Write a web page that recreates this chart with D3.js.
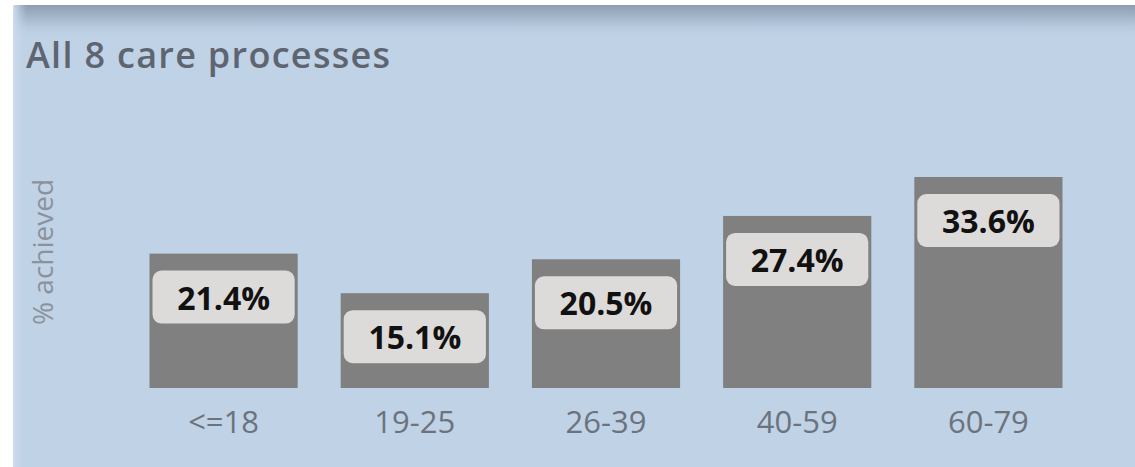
<!DOCTYPE html>
<html>
<head>
<meta charset="utf-8">
<script src="https://cdn.jsdelivr.net/npm/d3@7"></script>
<style>
  html, body { margin: 0; padding: 0; background: #ffffff; }
  svg { display: block; }
</style>
</head>
<body>
<svg id="chart" width="1135" height="467"></svg>
<script>
// Age bands and share of patients receiving all 8 care processes
const ageBands = ["<=18", "19-25", "26-39", "40-59", "60-79"];
const achievedPct = [21.4, 15.1, 20.5, 27.4, 33.6];
const titleText = "All 8 care processes";
const yAxisLabel = "% achieved";

const W = 1135, H = 467;
const FONT = "'Open Sans', 'Noto Sans', sans-serif";
const svg = d3.select("#chart");

// Panel background with soft shadow along the top edge
const defs = svg.append("defs");
const topShade = defs.append("linearGradient")
  .attr("id", "topShade").attr("x1", 0).attr("y1", 0).attr("x2", 0).attr("y2", 1);
topShade.append("stop").attr("offset", 0).attr("stop-color", "#8e9eb1");
topShade.append("stop").attr("offset", 0.45).attr("stop-color", "#a9bcd1");
topShade.append("stop").attr("offset", 1).attr("stop-color", "#bfd2e6").attr("stop-opacity", 0);

const leftShade = defs.append("linearGradient")
  .attr("id", "leftShade").attr("x1", 0).attr("y1", 0).attr("x2", 1).attr("y2", 0);
leftShade.append("stop").attr("offset", 0).attr("stop-color", "#cfdcec");
leftShade.append("stop").attr("offset", 1).attr("stop-color", "#bfd2e6").attr("stop-opacity", 0);

svg.append("rect").attr("x", 13).attr("y", 5).attr("width", W - 13).attr("height", H - 5)
  .attr("fill", "#bfd2e6");
svg.append("rect").attr("x", 13).attr("y", 5).attr("width", W - 13).attr("height", 34)
  .attr("fill", "url(#topShade)");
svg.append("rect").attr("x", 13).attr("y", 5).attr("width", 14).attr("height", H - 5)
  .attr("fill", "url(#leftShade)");

// Title
svg.append("text")
  .attr("x", 26).attr("y", 68)
  .attr("font-family", FONT)
  .attr("font-size", 36).attr("font-weight", 600)
  .attr("letter-spacing", 1.3)
  .attr("fill", "#5e6570")
  .text(titleText);

// Scales
const x = d3.scaleBand()
  .domain(ageBands)
  .range([128, 1084])
  .paddingInner(0.225)
  .paddingOuter(0.1125);

const y = d3.scaleLinear()
  .domain([0, d3.max(achievedPct)])
  .range([388, 177]);

const data = ageBands.map((b, i) => ({ band: b, value: achievedPct[i] }));

// Y axis title
svg.append("text")
  .attr("transform", "translate(53,252) rotate(-90)")
  .attr("text-anchor", "middle")
  .attr("font-family", FONT)
  .attr("font-size", 28)
  .attr("fill", "#8b929b")
  .text(yAxisLabel);

// Bars
const bars = svg.append("g").selectAll("g").data(data).join("g");

bars.append("rect")
  .attr("x", d => x(d.band))
  .attr("y", d => y(d.value))
  .attr("width", x.bandwidth())
  .attr("height", d => y(0) - y(d.value))
  .attr("fill", "#808080");

// Value labels in rounded boxes near the top of each bar
const boxH = 53, inset = 3, drop = 17;
bars.append("rect")
  .attr("x", d => x(d.band) + inset)
  .attr("y", d => y(d.value) + drop)
  .attr("width", x.bandwidth() - 2 * inset)
  .attr("height", boxH)
  .attr("rx", 9).attr("ry", 9)
  .attr("fill", "#dddbd9");

bars.append("text")
  .attr("x", d => x(d.band) + x.bandwidth() / 2)
  .attr("y", d => y(d.value) + drop + 39)
  .attr("text-anchor", "middle")
  .attr("font-family", FONT)
  .attr("font-size", 32).attr("font-weight", 700)
  .attr("fill", "#111111")
  .text(d => d.value.toFixed(1) + "%");

// Category axis
const xAxis = svg.append("g")
  .attr("transform", "translate(0,388)")
  .call(d3.axisBottom(x).tickSize(0).tickPadding(23));
xAxis.select(".domain").remove();
xAxis.selectAll("text")
  .attr("font-family", FONT)
  .attr("font-size", 31)
  .attr("fill", "#6d737c");
</script>
</body>
</html>
